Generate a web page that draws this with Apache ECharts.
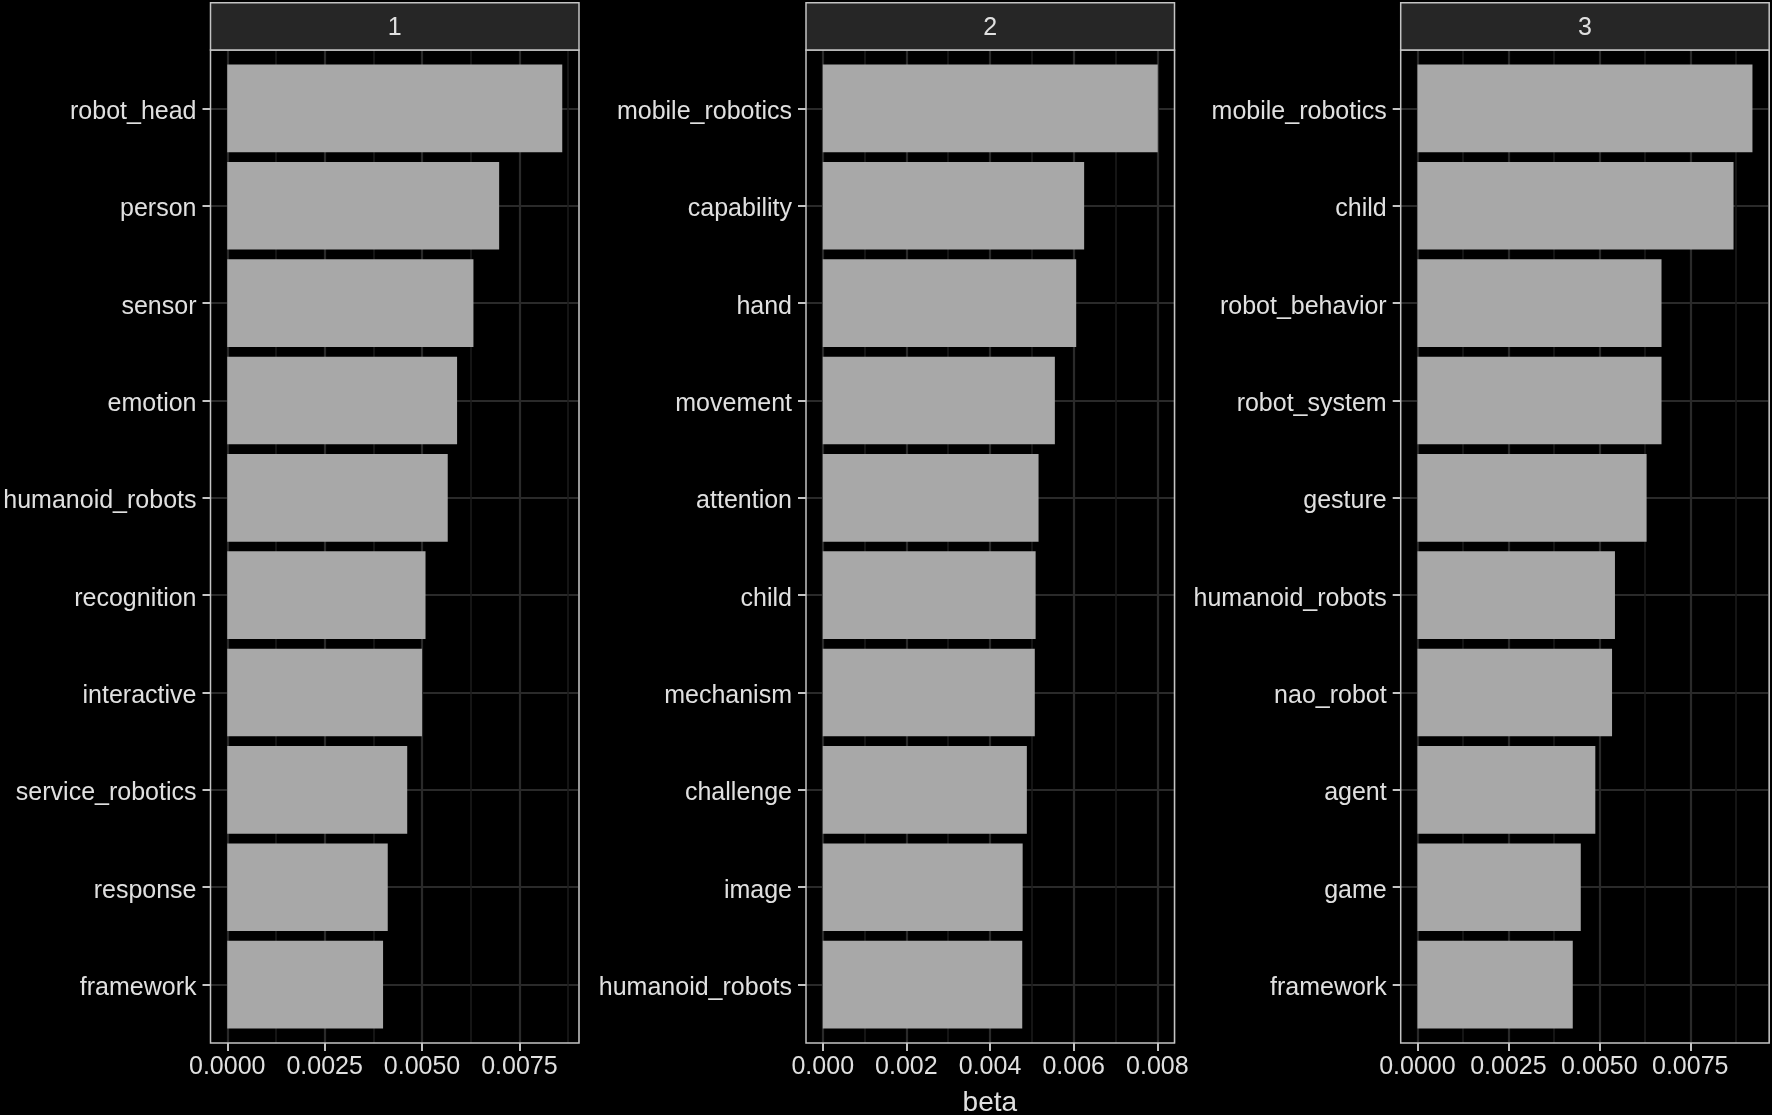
<!DOCTYPE html>
<html>
<head>
<meta charset="utf-8">
<title>Top terms per topic</title>
<script src="https://cdn.jsdelivr.net/npm/echarts@6/dist/echarts.min.js"></script>
<style>
    html, body { margin: 0; padding: 0; background: #000; }
    #main { width: 1772px; height: 1115px; }
</style>
</head>
<body>
<div id="main"></div>
<script>
// facet labels and per-topic terms / beta values
var topicLabels = ['1', '2', '3'];
var terms1 = ['robot_head', 'person', 'sensor', 'emotion', 'humanoid_robots', 'recognition', 'interactive', 'service_robotics', 'response', 'framework'];
var beta1 = [0.00860, 0.00698, 0.00632, 0.00590, 0.00566, 0.00509, 0.00500, 0.00462, 0.00412, 0.00400];
var terms2 = ['mobile_robotics', 'capability', 'hand', 'movement', 'attention', 'child', 'mechanism', 'challenge', 'image', 'humanoid_robots'];
var beta2 = [0.00801, 0.00625, 0.00606, 0.00555, 0.00516, 0.00509, 0.00507, 0.00488, 0.00478, 0.00477];
var terms3 = ['mobile_robotics', 'child', 'robot_behavior', 'robot_system', 'gesture', 'humanoid_robots', 'nao_robot', 'agent', 'game', 'framework'];
var beta3 = [0.00921, 0.00869, 0.00671, 0.00671, 0.00630, 0.00543, 0.00535, 0.00489, 0.00449, 0.00427];
// x tick step and label decimals per panel
var majorSteps = [0.0025, 0.002, 0.0025];
var labelDigits = [4, 3, 4];
var xTitle = 'beta';

var terms = [terms1, terms2, terms3];
var betas = [beta1, beta2, beta3];

var W = 1772, H = 1115;
var FONT = '"Liberation Sans", Arial, Helvetica, sans-serif';
var TEXT = '#e0e0e0';
var LINE = '#c4c4c4';
var panelLefts = [210.5, 806, 1400.7];
var panelW = 368.5;
var panelTop = 50, panelBottom = 1043;
var stripTop = 2.7;

var grids = [], xAxes = [], yAxes = [], series = [], graphics = [];

for (var i = 0; i < 3; i++) {
    var left = panelLefts[i];
    var right = W - (left + panelW);
    var m = Math.max.apply(null, betas[i]);
    var lo = -0.05 * m, hi = 1.05 * m;
    var zeroX = left + panelW * 0.05 / 1.1;
    var n = terms[i].length;
    var unit = (panelBottom - panelTop) / (n - 1 + 1.2);
    var step = majorSteps[i];
    var ticks = [];
    for (var k = 0; k * step <= m + 1e-12; k++) ticks.push(+(k * step).toFixed(6));

    var g = grids.length;
    // background grid: vertical grid lines + x labels
    grids.push({ left: zeroX, right: right, top: panelTop, bottom: H - panelBottom });
    // rows grid: horizontal lines + term labels
    grids.push({ left: left, right: right, top: panelTop + 0.6 * unit, bottom: H - panelBottom + 0.6 * unit });
    // bars grid
    grids.push({ left: left, right: right, top: panelTop + 0.1 * unit, bottom: H - panelBottom + 0.1 * unit });

    var xi = xAxes.length;
    xAxes.push({
        type: 'value', gridIndex: g, position: 'bottom', min: 0, max: hi, interval: step / 2,
        axisLine: { show: false }, axisTick: { show: false }, axisLabel: { show: false },
        splitLine: { show: true, lineStyle: { color: '#1c1c1c', width: 1.5 } }
    });
    xAxes.push({
        type: 'value', gridIndex: g, position: 'bottom', min: 0, max: hi, interval: step,
        axisLine: { show: false },
        axisTick: { show: true, length: 8, customValues: ticks, lineStyle: { color: LINE, width: 2 } },
        axisLabel: {
            show: true, margin: 12, color: TEXT, fontSize: 25, fontFamily: FONT,
            customValues: ticks,
            formatter: (function (d) { return function (v) { return v.toFixed(d); }; })(labelDigits[i])
        },
        splitLine: { show: true, lineStyle: { color: '#2a2a2a', width: 2.2 } }
    });
    xAxes.push({ type: 'value', gridIndex: g + 1, min: 0, max: 1, show: false });
    xAxes.push({ type: 'value', gridIndex: g + 2, min: lo, max: hi, show: false });

    var yi = yAxes.length;
    yAxes.push({ type: 'value', gridIndex: g, min: 0, max: 1, show: false });
    yAxes.push({
        type: 'category', gridIndex: g + 1, position: 'left', data: terms[i], inverse: true, boundaryGap: false,
        axisLine: { show: false },
        axisTick: { show: true, length: 8, lineStyle: { color: LINE, width: 2 } },
        axisLabel: {
            color: TEXT, fontSize: 25, fontFamily: FONT, margin: 14,
            verticalAlign: 'top', lineHeight: 7
        },
        splitLine: { show: true, lineStyle: { color: '#2a2a2a', width: 2.2 } }
    });
    yAxes.push({ type: 'category', gridIndex: g + 2, data: terms[i], inverse: true, show: false });

    series.push({
        type: 'bar', xAxisIndex: xi + 3, yAxisIndex: yi + 2,
        data: betas[i], barCategoryGap: '10%', silent: true,
        itemStyle: { color: '#a8a8a8' }
    });

    // panel border and facet strip
    graphics.push({
        type: 'rect', z: 100, silent: true,
        shape: { x: left, y: panelTop, width: panelW, height: panelBottom - panelTop },
        style: { fill: null, stroke: LINE, lineWidth: 1.5 }
    });
    graphics.push({
        type: 'rect', z: 100, silent: true,
        shape: { x: left, y: stripTop, width: panelW, height: panelTop - stripTop },
        style: { fill: '#262626', stroke: LINE, lineWidth: 1.5 }
    });
    graphics.push({
        type: 'text', z: 101, silent: true,
        style: {
            text: topicLabels[i], x: left + panelW / 2, y: (stripTop + panelTop) / 2 + 2,
            align: 'center', verticalAlign: 'middle', fill: TEXT, fontSize: 25, fontFamily: FONT
        }
    });
}

graphics.push({
    type: 'text', z: 101, silent: true,
    style: {
        text: xTitle, x: (panelLefts[0] + panelLefts[2] + panelW) / 2, y: 1103,
        align: 'center', verticalAlign: 'middle', fill: TEXT, fontSize: 28, fontFamily: FONT
    }
});

var chart = echarts.init(document.getElementById('main'));
chart.setOption({
    backgroundColor: '#000',
    animation: false,
    textStyle: { fontFamily: FONT },
    grid: grids,
    xAxis: xAxes,
    yAxis: yAxes,
    series: series,
    graphic: graphics
});
</script>
</body>
</html>
